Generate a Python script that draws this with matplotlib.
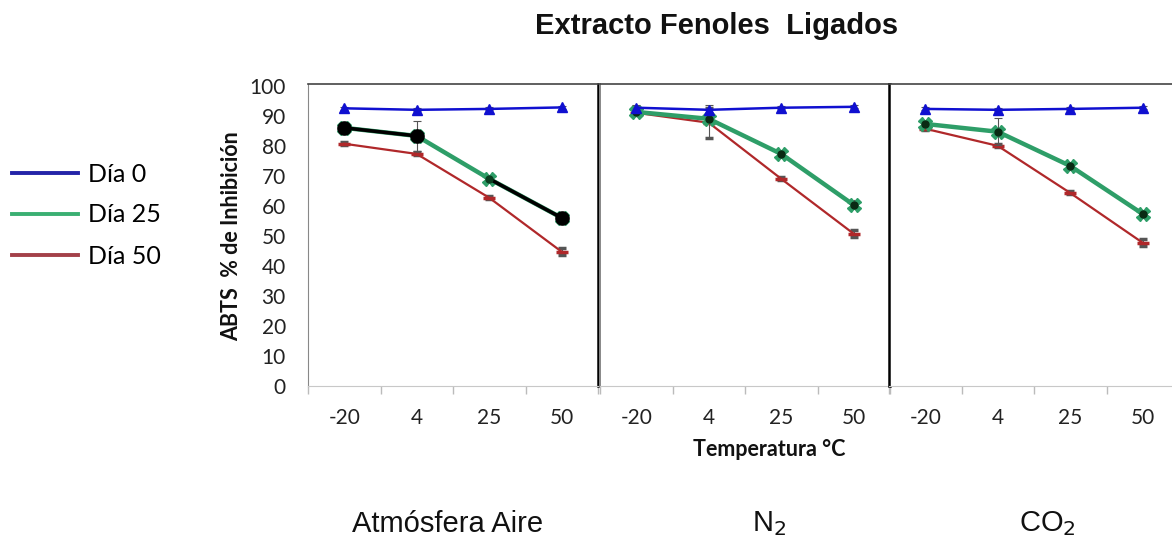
import matplotlib
matplotlib.use("Agg")
import matplotlib.pyplot as plt
from matplotlib.lines import Line2D
import numpy as np

# ---------------- data ----------------
temps = ['-20', '4', '25', '50']
atmospheres = ['Atmósfera Aire', 'N$_2$', 'CO$_2$']
series_names = ['Día 0', 'Día 25', 'Día 50']

aire_d0 = [92.5, 92.0, 92.3, 92.8]
aire_d25 = [86.0, 83.3, 69.0, 56.0]
aire_d50 = [80.7, 77.3, 62.7, 44.7]
n2_d0 = [92.7, 92.0, 92.7, 93.0]
n2_d25 = [91.3, 89.0, 77.3, 60.3]
n2_d50 = [91.0, 87.7, 69.0, 50.7]
co2_d0 = [92.3, 92.0, 92.3, 92.7]
co2_d25 = [87.3, 84.7, 73.3, 57.3]
co2_d50 = [85.7, 80.0, 64.3, 47.7]

aire_d0_err = [0.5, 0.5, 0.5, 0.5]
aire_d25_err = [1.0, 5.0, 1.2, 1.2]
aire_d50_err = [0.5, 0.5, 0.5, 1.2]
n2_d0_err = [1.0, 1.5, 0.5, 0.5]
n2_d25_err = [1.0, 1.0, 1.2, 1.5]
n2_d50_err = [0.8, 5.0, 0.5, 1.2]
co2_d0_err = [0.5, 0.5, 0.5, 0.5]
co2_d25_err = [1.0, 4.5, 1.2, 1.2]
co2_d50_err = [0.5, 0.5, 0.5, 1.2]

panels = [
    (aire_d0, aire_d25, aire_d50, aire_d0_err, aire_d25_err, aire_d50_err),
    (n2_d0, n2_d25, n2_d50, n2_d0_err, n2_d25_err, n2_d50_err),
    (co2_d0, co2_d25, co2_d50, co2_d0_err, co2_d25_err, co2_d50_err),
]

# ---------------- style ----------------
C_BLUE = '#1010D0'
C_GREEN = '#2E9E68'
C_RED = '#B0282A'
LEG_BLUE = '#2424A8'
LEG_GREEN = '#3AAF72'
LEG_RED = '#A34049'
SANS = ['Lato', 'DejaVu Sans']
ARIAL = ['Liberation Sans', 'DejaVu Sans']

W, H = 1172, 544
fig = plt.figure(figsize=(W / 100, H / 100), dpi=100)

def fx(px):
    return px / W

def fy(py):
    return 1 - py / H

top_px, bot_px = 84, 386
panel_left = [308, 600, 889]
panel_w = 290

x = np.arange(len(temps))
axes = []
for i, (d0, d25, d50, e0, e25, e50) in enumerate(panels):
    ax = fig.add_axes([fx(panel_left[i]), fy(bot_px), fx(panel_w), (bot_px - top_px) / H])
    axes.append(ax)
    ax.set_xlim(-0.5, len(temps) - 0.5)
    ax.set_ylim(0, 100.6)

    # Day 50
    ax.errorbar(x, d50, yerr=e50, color=C_RED, lw=1.6, marker='_', ms=8, mew=2.5,
                ecolor='#555555', elinewidth=0.8, capsize=3, capthick=0.8, zorder=3)
    # Day 25
    ax.errorbar(x, d25, yerr=e25, color=C_GREEN, lw=3.2, marker='X', ms=10,
                mfc=C_GREEN, mec=C_GREEN, ecolor='#555555', elinewidth=0.8,
                capsize=3, capthick=0.8, zorder=4)
    if i == 0:
        # black overlay segments in the first panel
        for a, b in [(0, 1), (2, 3)]:
            ax.plot(x[a:b + 1], d25[a:b + 1], color='black', lw=2.6, zorder=5)
        ax.plot(x[[0, 1, 3]], np.array(d25)[[0, 1, 3]], 'o', color='black', ms=9.5, zorder=6)
        ax.plot(x[2], d25[2], 'o', color='#0B3D1F', ms=5, zorder=6)
    else:
        ax.plot(x, d25, 'o', color='#0A2A14', ms=5, zorder=5)
    # Day 0
    ax.errorbar(x, d0, yerr=e0, color=C_BLUE, lw=1.8, marker='^', ms=7,
                ecolor='#555555', elinewidth=0.8, capsize=3, capthick=0.8, zorder=6)

    ax.set_xticks(x)
    ax.set_xticklabels(temps, fontsize=15, family=SANS, color='#222222')
    ax.set_xticks(np.arange(-0.5, len(temps), 1.0), minor=True)
    ax.tick_params(axis='x', which='major', length=0, pad=16)
    ax.tick_params(axis='x', which='minor', length=6, color='#bbbbbb', width=1)

    ax.set_yticks(np.arange(0, 101, 10))
    if i == 0:
        ax.tick_params(axis='y', length=0, labelsize=15, pad=16, labelcolor='#222222')
        for lab in ax.get_yticklabels():
            lab.set_family(SANS)
    else:
        ax.tick_params(axis='y', length=0, labelleft=False)

    ax.spines['bottom'].set_color('#c8c8c8')
    ax.spines['top'].set_color('#444444')
    ax.spines['top'].set_linewidth(1.2)
    ax.spines['left'].set_color('#888888')
    ax.spines['right'].set_color('black')
    ax.spines['right'].set_linewidth(1.8)
    if i == 1:
        ax.spines['left'].set_linewidth(1.4)
    if i == 2:
        ax.spines['left'].set_color('black')
        ax.spines['left'].set_linewidth(1.8)

# title & axis labels
fig.text(fx(717), fy(26), 'Extracto Fenoles  Ligados', ha='center', va='center',
         fontsize=21, fontweight='bold', family=ARIAL, color='#111111')
fig.text(fx(232), fy(236), 'ABTS  % de Inhibición', ha='center', va='center', rotation=90,
         fontsize=15.5, fontweight='bold', family=SANS, color='#111111')
fig.text(fx(769), fy(450), 'Temperatura °C', ha='center', va='center',
         fontsize=15.5, fontweight='bold', family=SANS, color='#111111')

# atmosphere labels below
for xpx, lab in zip([448, 769, 1047], atmospheres):
    fig.text(fx(xpx), fy(524), lab, ha='center', va='center', fontsize=21,
             family=ARIAL, color='#111111')

# legend at left
handles = [Line2D([], [], color=LEG_BLUE, lw=2.8),
           Line2D([], [], color=LEG_GREEN, lw=2.8),
           Line2D([], [], color=LEG_RED, lw=2.8)]
leg = fig.legend(handles, series_names, loc='center left', bbox_to_anchor=(fx(12), fy(215)),
                 frameon=False, handlelength=2.65, handletextpad=0.4,
                 labelspacing=0.72, borderpad=0, borderaxespad=0,
                 prop={'family': SANS, 'size': 18})

fig.savefig('out.png', dpi=100)
